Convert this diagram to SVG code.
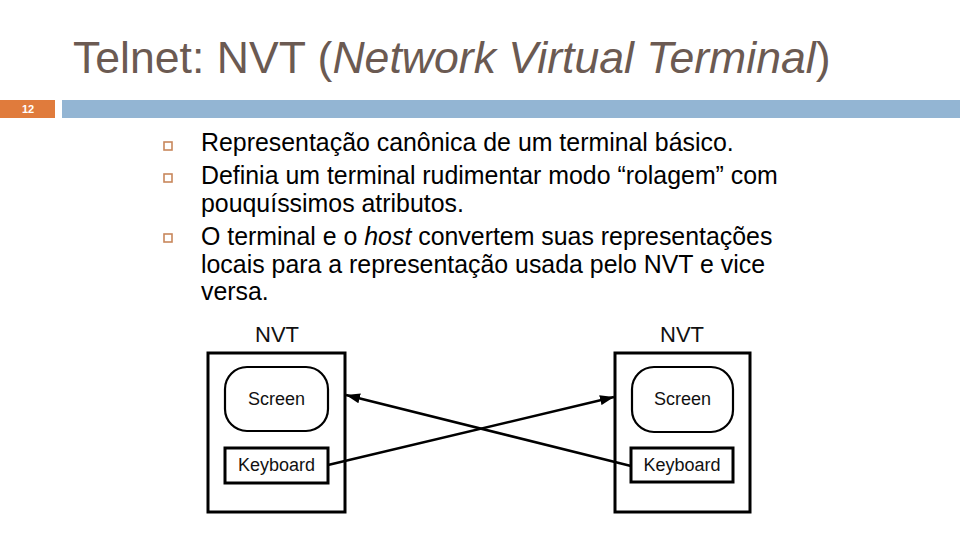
<svg xmlns="http://www.w3.org/2000/svg" width="960" height="540" viewBox="0 0 960 540">
<defs>
<style>
.title{font-family:"Liberation Sans",Arial,sans-serif;font-size:44.6px;fill:#6b5a52}
.body{font-family:"Liberation Sans",Arial,sans-serif;font-size:24.9px;fill:#000}
.lbl{font-family:"Liberation Sans",Arial,sans-serif;fill:#111;text-anchor:middle}
.box{fill:#fff;stroke:#000;stroke-width:3}
.scr{fill:#fff;stroke:#000;stroke-width:2.2}
.bul{fill:none;stroke:#c8875c;stroke-width:1.6}
.conn{stroke:#000;stroke-width:2.5;fill:none}
</style>
<marker id="ah" viewBox="0 0 14 10" refX="14" refY="5" markerWidth="14" markerHeight="10" markerUnits="userSpaceOnUse" orient="auto">
<path d="M0,0 L14,5 L0,10 Z" fill="#000"/>
</marker>
</defs>
<rect width="960" height="540" fill="#fff"/>
<text class="title" x="73" y="73">Telnet: NVT (<tspan font-style="italic">Network Virtual Terminal</tspan>)</text>
<rect x="0" y="100" width="55" height="18" fill="#e07b3c"/>
<rect x="62" y="100" width="898" height="18" fill="#93b5d3"/>
<text x="28" y="113" font-family="Liberation Sans,Arial,sans-serif" font-size="11" font-weight="bold" fill="#fff" text-anchor="middle">12</text>
<g id="bullets">
<rect class="bul" x="164" y="142" width="8" height="8"/>
<rect class="bul" x="164" y="174" width="8" height="8"/>
<rect class="bul" x="164" y="234" width="8" height="8"/>
</g>
<g id="text">
<text class="body" x="201" y="151">Representação canônica de um terminal básico.</text>
<text class="body" x="201" y="184">Definia um terminal rudimentar modo “rolagem” com</text>
<text class="body" x="201" y="212">pouquíssimos atributos.</text>
<text class="body" x="201" y="245">O terminal e o <tspan font-style="italic">host</tspan> convertem suas representações</text>
<text class="body" x="201" y="273">locais para a representação usada pelo NVT e vice</text>
<text class="body" x="201" y="300">versa.</text>
</g>
<g id="nvt-left">
<text class="lbl" x="277" y="342" font-size="22">NVT</text>
<rect class="box" x="208" y="353" width="137" height="159"/>
<rect class="scr" x="225" y="367" width="103" height="64" rx="22"/>
<text class="lbl" x="276.5" y="405" font-size="18">Screen</text>
<rect class="box" x="225" y="448" width="103" height="35"/>
<text class="lbl" x="276.5" y="471" font-size="18">Keyboard</text>
</g>
<g id="nvt-right">
<text class="lbl" x="682" y="342" font-size="22">NVT</text>
<rect class="box" x="615" y="353" width="135" height="159"/>
<rect class="scr" x="632" y="367" width="101" height="65" rx="22"/>
<text class="lbl" x="682.5" y="405" font-size="18">Screen</text>
<rect class="box" x="631" y="448" width="102" height="34"/>
<text class="lbl" x="682" y="471" font-size="18">Keyboard</text>
</g>
<g id="connectors">
<line class="conn" x1="328" y1="465" x2="614" y2="397" marker-end="url(#ah)"/>
<line class="conn" x1="631" y1="466" x2="346" y2="395" marker-end="url(#ah)"/>
</g>
</svg>
